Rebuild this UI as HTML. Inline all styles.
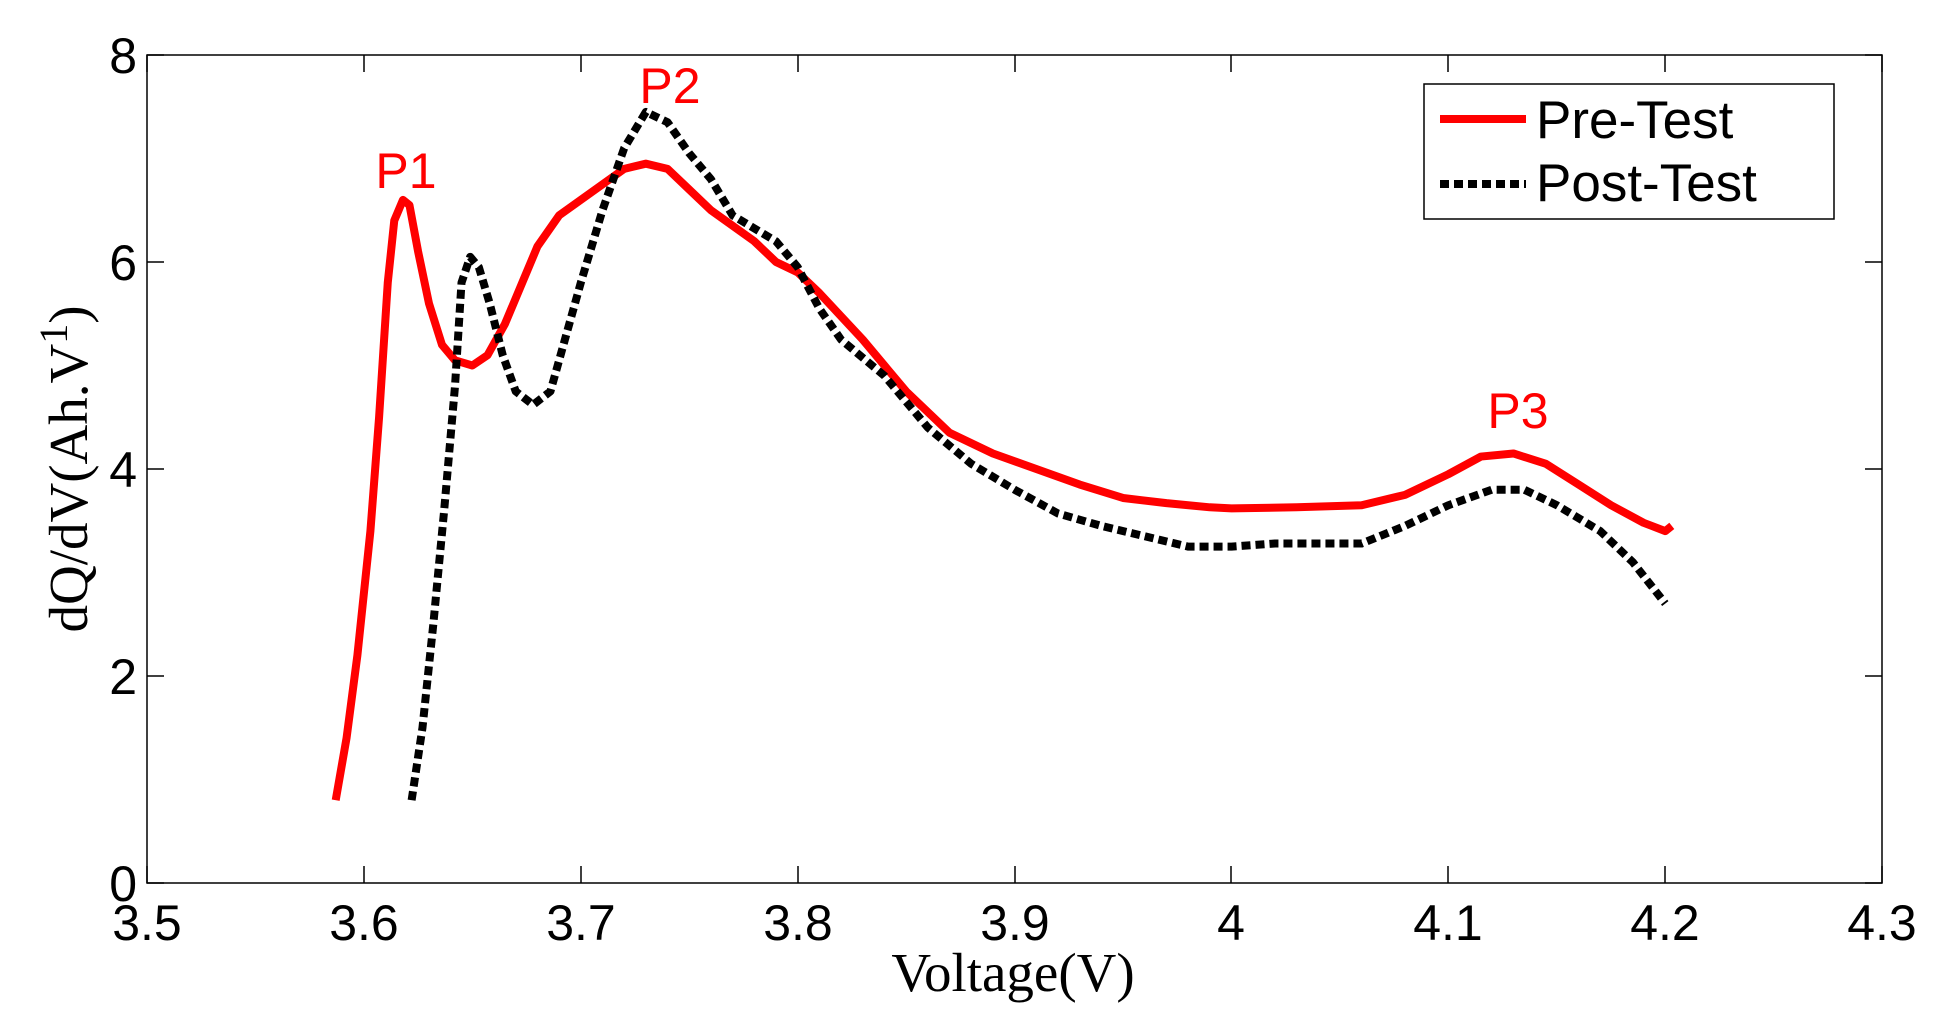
<!DOCTYPE html>
<html><head><meta charset="utf-8"><style>
html,body{margin:0;padding:0;background:#fff;}
svg{display:block;}
</style></head><body>
<svg width="1960" height="1027" viewBox="0 0 1960 1027" xmlns="http://www.w3.org/2000/svg">
<rect width="1960" height="1027" fill="#fff"/>
<g stroke="#000" stroke-width="1.5" fill="none">
<rect x="147" y="55" width="1735" height="828"/>
<path d="M147,883v-17M364,883v-17M581,883v-17M798,883v-17M1015,883v-17M1231,883v-17M1448,883v-17M1665,883v-17M1882,883v-17
M147,55v17M364,55v17M581,55v17M798,55v17M1015,55v17M1231,55v17M1448,55v17M1665,55v17M1882,55v17
M147,883h17M147,676h17M147,469h17M147,262h17M147,55h17
M1882,883h-17M1882,676h-17M1882,469h-17M1882,262h-17M1882,55h-17"/>
</g>
<g font-family="Liberation Sans, sans-serif" font-size="50" fill="#000" text-anchor="middle">
<text x="147" y="940">3.5</text><text x="364" y="940">3.6</text><text x="581" y="940">3.7</text><text x="798" y="940">3.8</text><text x="1015" y="940">3.9</text><text x="1231" y="940">4</text><text x="1448" y="940">4.1</text><text x="1665" y="940">4.2</text><text x="1882" y="940">4.3</text>
</g>
<g font-family="Liberation Sans, sans-serif" font-size="50" fill="#000" text-anchor="end">
<text x="137" y="901">0</text><text x="137" y="694">2</text><text x="137" y="487">4</text><text x="137" y="280">6</text><text x="137" y="73">8</text>
</g>
<text x="1013" y="991" font-family="Liberation Serif, serif" font-size="55" text-anchor="middle">Voltage(V)</text>
<text transform="translate(87,469) rotate(-90)" font-family="Liberation Serif, serif" font-size="55" text-anchor="middle">dQ/dV(Ah.V<tspan dy="-20" font-size="40">1</tspan><tspan dy="20">)</tspan></text>
<g transform="translate(-7444.5,883) scale(2169,-103.5)" fill="none" stroke-linejoin="round">
<polyline vector-effect="non-scaling-stroke" stroke="#f00" stroke-width="8" points="3.587,0.8 3.592,1.4 3.597,2.2 3.603,3.4 3.607,4.5 3.611,5.8 3.614,6.4 3.618,6.6 3.621,6.55 3.625,6.1 3.63,5.6 3.636,5.2 3.642,5.05 3.65,5.0 3.657,5.1 3.665,5.4 3.673,5.8 3.68,6.15 3.69,6.45 3.70,6.6 3.71,6.75 3.72,6.9 3.73,6.95 3.74,6.9 3.75,6.7 3.76,6.5 3.78,6.2 3.79,6.0 3.80,5.9 3.81,5.7 3.83,5.25 3.85,4.75 3.87,4.35 3.89,4.15 3.91,4.0 3.93,3.85 3.95,3.72 3.97,3.67 3.99,3.63 4.00,3.62 4.03,3.63 4.06,3.65 4.08,3.75 4.10,3.95 4.115,4.12 4.13,4.15 4.145,4.05 4.16,3.85 4.175,3.65 4.19,3.48 4.2,3.4 4.203,3.45"/>
<polyline vector-effect="non-scaling-stroke" stroke="#000" stroke-width="8" stroke-dasharray="9,5" points="3.622,0.8 3.627,1.5 3.632,2.5 3.637,3.6 3.642,4.8 3.645,5.8 3.649,6.05 3.653,5.95 3.658,5.6 3.664,5.1 3.67,4.75 3.678,4.62 3.686,4.75 3.692,5.2 3.70,5.8 3.71,6.5 3.72,7.1 3.73,7.45 3.74,7.35 3.75,7.05 3.76,6.8 3.77,6.45 3.79,6.2 3.80,5.95 3.81,5.55 3.82,5.25 3.84,4.9 3.86,4.4 3.88,4.05 3.90,3.8 3.92,3.57 3.94,3.45 3.96,3.35 3.98,3.25 4.00,3.25 4.02,3.28 4.06,3.28 4.08,3.45 4.10,3.65 4.12,3.8 4.135,3.8 4.15,3.65 4.17,3.4 4.185,3.1 4.2,2.7"/>
</g>
<g font-family="Liberation Sans, sans-serif" font-size="50" fill="#f00" text-anchor="middle">
<text x="406" y="188">P1</text><text x="670" y="103">P2</text><text x="1518" y="428">P3</text>
</g>
<rect x="1424" y="84" width="410" height="135" fill="#fff" stroke="#000" stroke-width="1.5"/>
<line x1="1440" y1="119" x2="1526" y2="119" stroke="#f00" stroke-width="8"/>
<line x1="1440" y1="184" x2="1526" y2="184" stroke="#000" stroke-width="8" stroke-dasharray="9,5"/>
<g font-family="Liberation Sans, sans-serif" font-size="53" fill="#000">
<text x="1536" y="138">Pre-Test</text><text x="1536" y="201">Post-Test</text>
</g>
</svg>
</body></html>
